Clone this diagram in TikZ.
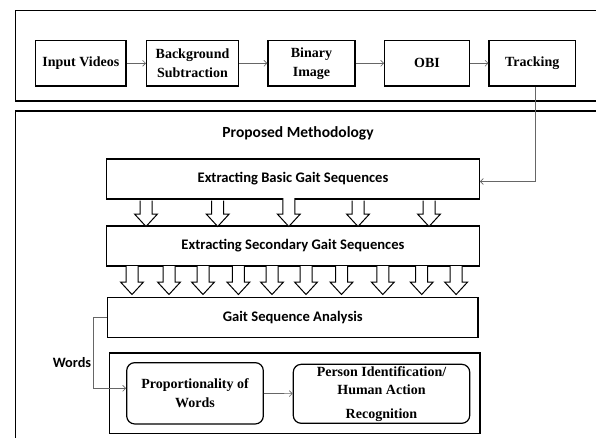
\documentclass[tikz,border=0pt]{standalone}
\usepackage{fontspec}
\setmainfont{Liberation Serif}
\newfontfamily\carl{Carlito}
\usetikzlibrary{arrows.meta}
\tikzset{
  topbox/.style={draw, line width=1.3pt, inner sep=0pt, align=center, font=\fontsize{14}{19}\selectfont\bfseries},
  sbox/.style={draw, line width=1.2pt, inner sep=0pt, align=center, font=\carl\fontsize{14.6}{16}\selectfont\bfseries},
  rbox/.style={draw, line width=1.2pt, rounded corners=8pt, inner sep=0pt, align=center, font=\fontsize{14}{18.4}\selectfont\bfseries},
  outer/.style={draw, line width=1.2pt},
  conn/.style={draw=black!60, line width=0.6pt, -{Straight Barb[length=3pt,width=6pt]}},
  barrow/.pic={\draw[line width=1pt, fill=white, line join=miter]
     (-6,0) -- (-6,#1-12.5) -- (-11.5,#1-12.5) -- (0,#1) -- (11.5,#1-12.5) -- (6,#1-12.5) -- (6,0);}
}
\begin{document}
\begin{tikzpicture}[x=1pt,y=-1pt]
\useasboundingbox (0,0) rectangle (596,437);
\fill[white] (0,0) rectangle (596,437);
% outer frames
\draw[outer] (15.5,10.5) rectangle (604,101);
\draw[outer] (15.5,111) rectangle (604,445);
% top row
\node[topbox, minimum width=90.5, minimum height=45.5] (iv) at (80.8,63.3) {Input Videos};
\node[topbox, minimum width=91.7, minimum height=45.5] (bs) at (192.5,63.3) {Background\\Subtraction};
\node[topbox, minimum width=87, minimum height=45.5] (bi) at (311.5,63.3) {Binary\\Image};
\node[topbox, minimum width=84.5, minimum height=45.5] (obi) at (427,63.3) {OBI};
\node[topbox, minimum width=86.3, minimum height=45.5] (tr) at (532.2,63.3) {Tracking};
\draw[conn] (iv) -- (bs);
\draw[conn] (bs) -- (bi);
\draw[conn] (bi) -- (obi);
\draw[conn] (obi) -- (tr);
% methodology
\node[font=\carl\fontsize{15.5}{17}\selectfont\bfseries] (pm) at (298,133) {Proposed Methodology};
\node[sbox, minimum width=372.6, minimum height=40] (eb) at (293,179) {Extracting Basic Gait Sequences};
\node[sbox, minimum width=372.6, minimum height=40] (es) at (293,246) {Extracting Secondary Gait Sequences};
\node[sbox, minimum width=370.3, minimum height=40] (ga) at (292.8,317.3) {Gait Sequence Analysis};
\draw[conn] ([xshift=2.8pt]tr.south) |- ([yshift=-2.5pt]eb.east);
% block arrows
\foreach \x in {146,217.7,358,429} \pic at (\x,200.5) {barrow=26};
\pic at (288.8,198) {barrow=28.5};
\foreach \x in {132,169,203,238.4,272,306,341.5,382.8,421.7,456.1} \pic at (\x,266) {barrow=28.5};
% bottom group
\node[outer, minimum width=370.7, minimum height=80.7, inner sep=0pt] (grp) at (294.7,393.3) {};
\node[rbox, minimum width=136.6, minimum height=61.3] (pw) at (195,393.3) {Proportionality of\\Words};
\node[rbox, minimum width=176.5, minimum height=59] (pi) at (381.5,393.8) {Person Identification/\\Human Action\\[5pt]Recognition};
\draw[conn] (ga.west) -- ++(-13.4,0) coordinate (wbend) |- ([yshift=5pt]pw.west);
\node[font=\carl\fontsize{14.3}{16}\selectfont\bfseries] (wl) at (72,362.3) {Words};
\draw[conn] (pw) -- (pi);
\end{tikzpicture}
\end{document}
